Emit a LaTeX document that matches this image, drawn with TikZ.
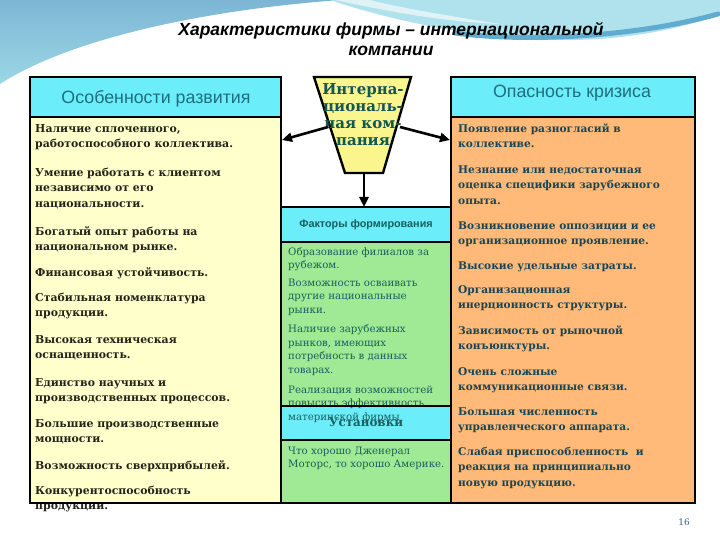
\documentclass[tikz,border=0pt]{standalone}
\usepackage{fontspec}
\setmainfont{DejaVu Serif}
\setsansfont{Liberation Sans}
\usetikzlibrary{arrows.meta}
\definecolor{hdrcyan}{RGB}{108,238,250}
\definecolor{lyellow}{RGB}{255,255,204}
\definecolor{cgreen}{RGB}{160,234,150}
\definecolor{rorange}{RGB}{255,185,120}
\definecolor{tyellow}{RGB}{250,245,140}
\definecolor{hdrtext}{RGB}{30,110,125}
\definecolor{ltext}{RGB}{35,35,25}
\definecolor{ctext}{RGB}{25,95,95}
\definecolor{rtext}{RGB}{25,70,85}
\definecolor{ttext}{RGB}{20,85,85}
\definecolor{bgA}{RGB}{125,182,212}
\definecolor{bgA2}{RGB}{155,215,230}
\definecolor{bgB}{RGB}{175,226,236}
\definecolor{bgband}{RGB}{95,172,208}
\begin{document}
\begin{tikzpicture}[x=1pt,y=-1pt,
  box/.style={draw=black, line width=2.4pt},
  fillbox/.style={anchor=north west, inner sep=0pt, outer sep=0pt},
  arr/.style={line width=2.6pt, -{Triangle[length=10pt,width=9pt]}},
  litem/.style={anchor=north west, yshift=10.99pt, align=left, inner sep=0pt, text=ltext,
    font=\bfseries\fontsize{10.9}{15.7}\selectfont},
  ritem/.style={anchor=north west, yshift=10.99pt, align=left, inner sep=0pt, text=rtext,
    font=\bfseries\fontsize{10.6}{15.7}\selectfont},
  citem/.style={anchor=north west, yshift=9.38pt, align=left, inner sep=0pt, text=ctext,
    font=\fontsize{10.2}{13.4}\selectfont},
  hdr/.style={anchor=base, inner sep=0pt, text=hdrtext,
    font=\sffamily\fontsize{17.8}{20}\selectfont},
]
\useasboundingbox (0,0) rectangle (720,540);
\fill[white] (0,0) rectangle (720,540);
% background swooshes
\shade[top color=bgA, bottom color=bgA2] (0,0) -- (0,84) .. controls (60,45) and (180,12) .. (340,0) -- cycle;
\fill[bgB] (330,0) .. controls (420,30) and (520,44) .. (600,39) .. controls (650,35) and (690,26) .. (720,14) -- (720,0) -- cycle;
\fill[white, opacity=0.6] (335,0) .. controls (400,14) and (450,22) .. (500,24) .. controls (450,16) and (400,8) .. (370,0) -- cycle;
\draw[bgband, line width=5pt, line cap=round] (455,33) .. controls (530,43) and (640,36) .. (718,14);

% title
\node[anchor=north, yshift=13.51pt, align=center, inner sep=0pt, font=\sffamily\bfseries\itshape\fontsize{17.5}{19.3}\selectfont] (title) at (391,35.7) {\strut Характеристики фирмы – интернациональной\\компании};

% box fills
\node[fillbox, fill=hdrcyan, minimum width=251pt, minimum height=40pt] (lhead) at (30,77) {};
\node[fillbox, fill=lyellow, minimum width=251pt, minimum height=386pt] (lbody) at (30,117) {};
\node[fillbox, fill=hdrcyan, minimum width=244pt, minimum height=40pt] (rhead) at (451,77) {};
\node[fillbox, fill=rorange, minimum width=244pt, minimum height=386pt] (rbody) at (451,117) {};
\node[fillbox, fill=hdrcyan, minimum width=170pt, minimum height=35pt] (chead) at (281,207) {};
\node[fillbox, fill=cgreen, minimum width=170pt, minimum height=164pt] (cbody) at (281,242) {};
\node[fillbox, fill=hdrcyan, minimum width=170pt, minimum height=34pt] (chead2) at (281,406) {};
\node[fillbox, fill=cgreen, minimum width=170pt, minimum height=63pt] (cbody2) at (281,440) {};

% trapezoid
\coordinate (ttl) at (314,77);
\coordinate (ttr) at (411,77);
\coordinate (tbr) at (383,173);
\coordinate (tbl) at (345,173);
\coordinate (tbot) at (364,173);
\filldraw[fill=tyellow, draw=black, line width=2.4pt] (ttl) -- (ttr) -- (tbr) -- (tbl) -- cycle;
\node[anchor=north, yshift=11.9pt, align=center, inner sep=0pt, text=ttext, font=\bfseries\fontsize{15}{17}\selectfont] (trap) at (363,94) {\strut Интерна-\\циональ-\\ная ком-\\пания};

% headers
\node[hdr] (lh) at (156,104) {Особенности развития};
\node[hdr] (rh) at (572,98) {Опасность кризиса};
\node[anchor=base, inner sep=0pt, text=ctext, font=\sffamily\bfseries\fontsize{10.8}{13}\selectfont] (ch) at (366,228) {Факторы формирования};

% left items
\node[litem] (l1) at (35,132) {\strut Наличие сплоченного,\\работоспособного коллектива.};
\node[litem] (l2) at (35,176) {\strut Умение работать с клиентом\\независимо от его\\национальности.};
\node[litem] (l3) at (35,235) {\strut Богатый опыт работы на\\национальном рынке.};
\node[litem] (l4) at (35,276) {\strut Финансовая устойчивость.};
\node[litem] (l5) at (35,301) {\strut Стабильная номенклатура\\продукции.};
\node[litem] (l6) at (35,343) {\strut Высокая техническая\\оснащенность.};
\node[litem] (l7) at (35,386) {\strut Единство научных и\\производственных процессов.};
\node[litem] (l8) at (35,427) {\strut Большие производственные\\мощности.};
\node[litem] (l9) at (35,469) {\strut Возможность сверхприбылей.};
\node[litem] (l10) at (35,494) {\strut Конкурентоспособность\\продукции.};

% right items
\node[ritem] (r1) at (458,132) {\strut Появление разногласий в\\коллективе.};
\node[ritem] (r2) at (458,173) {\strut Незнание или недостаточная\\оценка специфики зарубежного\\опыта.};
\node[ritem] (r3) at (458,229) {\strut Возникновение оппозиции и ее\\организационное проявление.};
\node[ritem] (r4) at (458,269) {\strut Высокие удельные затраты.};
\node[ritem] (r5) at (458,293) {\strut Организационная\\инерционность структуры.};
\node[ritem] (r6) at (458,334) {\strut Зависимость от рыночной\\конъюнктуры.};
\node[ritem] (r7) at (458,375) {\strut Очень сложные\\коммуникационные связи.};
\node[ritem] (r8) at (458,415) {\strut Большая численность\\управленческого аппарата.};
\node[ritem] (r9) at (458,455) {\strut Слабая приспособленность~ и\\реакция на принципиально\\новую продукцию.};

% centre items
\node[citem] (c1) at (288,255) {\strut Образование филиалов за\\рубежом.};
\node[citem] (c2) at (288,286) {\strut Возможность осваивать\\другие национальные\\рынки.};
\node[citem] (c3) at (288,332.7) {\strut Наличие зарубежных\\рынков, имеющих\\потребность в данных\\товарах.};
\node[citem] (c4) at (288,393) {\strut Реализация возможностей\\повысить эффективность\\материнской фирмы};
\node[anchor=base, inner sep=0pt, text=ctext, font=\bfseries\fontsize{11.9}{15}\selectfont] (ch2) at (366,426.7) {Установки};
\node[citem] (c5) at (288,454) {\strut Что хорошо Дженерал\\Моторс, то хорошо Америке.};

% borders
\draw[box] (lhead.north west) rectangle (lhead.south east);
\draw[box] (lbody.north west) rectangle (lbody.south east);
\draw[box] (rhead.north west) rectangle (rhead.south east);
\draw[box] (rbody.north west) rectangle (rbody.south east);
\draw[box] (chead.north west) rectangle (chead.south east);
\draw[box] (cbody.north west) rectangle (cbody.south east);
\draw[box] (chead2.north west) rectangle (chead2.south east);
\draw[box] (cbody2.north west) rectangle (cbody2.south east);

% arrows
\coordinate (aLs) at (328,127);
\coordinate (aRs) at (400,127);
\coordinate (lTip) at (282,140);
\coordinate (rTip) at (450,140);
\draw[arr] (aLs) -- (lTip);
\draw[arr] (aRs) -- (rTip);
\draw[arr] (tbot) -- (tbot |- chead.north);

% page number
\node[anchor=base, inner sep=0pt, text=hdrtext, font=\fontsize{9}{11}\selectfont] (pg) at (684,525) {16};
\end{tikzpicture}
\end{document}
